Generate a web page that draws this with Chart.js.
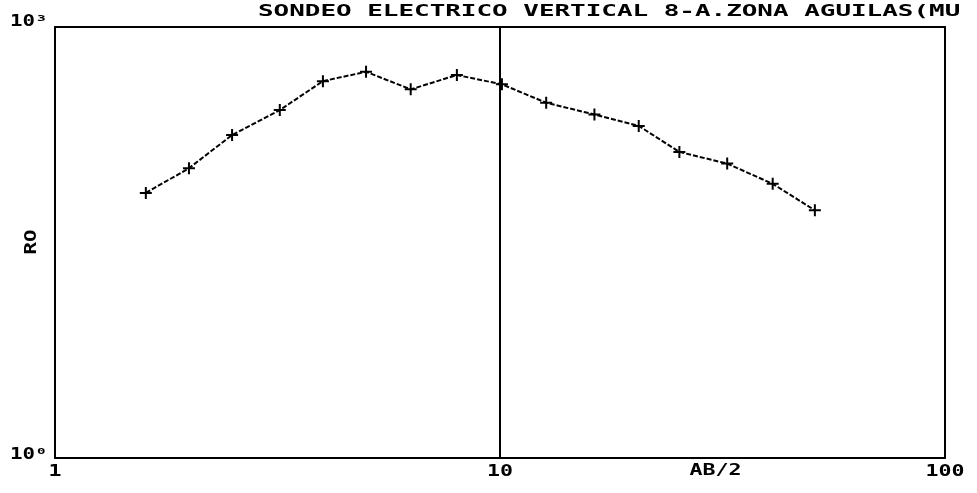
<!DOCTYPE html>
<html>
<head>
<meta charset="utf-8">
<script src="https://cdn.jsdelivr.net/npm/chart.js@4/dist/chart.umd.min.js"></script>
<style>
  html, body { margin: 0; padding: 0; background: #fff; }
  #wrap { width: 977px; height: 493px; }
</style>
</head>
<body>
<div id="wrap"><canvas id="myChart" width="977" height="493"></canvas></div>
<script>
// sondeo electrico vertical, AB/2 (m) frente a resistividad aparente RO
const abMitad = [1.6, 2, 2.5, 3.2, 4, 5, 6.3, 8, 10.1, 12.7, 16.3, 20.5, 25.3, 32.4, 41, 51];
const roAparente = [70, 104, 177, 264, 420, 488, 368, 463, 399, 297, 246, 205, 135, 112, 81, 53];

const xTickValues = [1, 10, 100];
const xTickLabels = ["1", "10", "100"];
const yTickValues = [1, 1000];
const yTickLabels = ["10\u2070", "10\u00B3"];

const titulo = "SONDEO ELECTRICO VERTICAL 8-A.ZONA AGUILAS(MU";
const tituloX = "AB/2";
const tituloY = "RO";

const FUENTE = "bold 16px 'DejaVu Sans Mono', monospace";

// texto estirado en horizontal, como el del plotter
function textoAncho(ctx, texto, x, y, sx, align) {
  ctx.save();
  ctx.font = FUENTE;
  ctx.fillStyle = "#000";
  ctx.textBaseline = "middle";
  ctx.textAlign = align;
  ctx.translate(x, y);
  ctx.scale(sx, 1);
  ctx.fillText(texto, 0, 0);
  ctx.restore();
}

const plotterPlugin = {
  id: "plotter",
  beforeDatasetsDraw(chart) {
    const { ctx, chartArea } = chart;
    ctx.save();
    ctx.strokeStyle = "#000";
    ctx.lineWidth = 2;
    ctx.strokeRect(chartArea.left, chartArea.top,
      chartArea.right - chartArea.left, chartArea.bottom - chartArea.top);
    ctx.restore();
  },
  afterDraw(chart) {
    const { ctx, scales } = chart;
    const x = scales.x;
    const y = scales.y;

    xTickValues.forEach((v, i) => {
      textoAncho(ctx, xTickLabels[i], x.getPixelForValue(v), 472, 1.35, "center");
    });
    yTickValues.forEach((v, i) => {
      const py = v === 1 ? y.getPixelForValue(v) - 3 : y.getPixelForValue(v) - 5;
      textoAncho(ctx, yTickLabels[i], 10, py, 1.3, "left");
    });

    textoAncho(ctx, tituloX, x.getPixelForValue(30.5), 471, 1.35, "center");
    textoAncho(ctx, titulo, 258, 12, 1.62, "left");

    ctx.save();
    ctx.font = FUENTE;
    ctx.fillStyle = "#000";
    ctx.textAlign = "center";
    ctx.textBaseline = "middle";
    ctx.translate(32, 242);
    ctx.rotate(-Math.PI / 2);
    ctx.scale(1.3, 1);
    ctx.fillText(tituloY, 0, 0);
    ctx.restore();
  }
};

document.addEventListener("DOMContentLoaded", () => {
  const ctx = document.getElementById("myChart");

  if (!ctx) {
    console.error("Canvas element 'myChart' not found");
    return;
  }

  const puntos = abMitad.map((ab, i) => ({ x: ab, y: roAparente[i] }));

  new Chart(ctx, {
    type: "line",
    data: {
      datasets: [{
        data: puntos,
        borderColor: "#000",
        borderWidth: 2,
        borderDash: [5, 2],
        pointStyle: "cross",
        pointRadius: 6,
        pointBorderWidth: 2,
        pointBorderColor: "#000",
        pointBackgroundColor: "#000",
        tension: 0,
        fill: false
      }]
    },
    options: {
      responsive: false,
      animation: false,
      devicePixelRatio: 1,
      layout: { padding: { top: 27, right: 32, left: 0, bottom: 0 } },
      plugins: {
        legend: { display: false },
        tooltip: { enabled: false },
        title: { display: false }
      },
      scales: {
        x: {
          type: "logarithmic",
          min: 1,
          max: 100,
          afterBuildTicks: scale => {
            scale.ticks = xTickValues.map(v => ({ value: v }));
          },
          afterFit: scale => { scale.height = 35; },
          ticks: { display: false },
          border: { display: false },
          grid: {
            drawTicks: false,
            lineWidth: 2,
            color: c => (c.tick && c.tick.value === 10 ? "#000" : "rgba(0,0,0,0)")
          }
        },
        y: {
          type: "logarithmic",
          min: 1,
          max: 1000,
          afterBuildTicks: scale => {
            scale.ticks = yTickValues.map(v => ({ value: v }));
          },
          afterFit: scale => { scale.width = 55; },
          ticks: { display: false },
          border: { display: false },
          grid: { display: false }
        }
      }
    },
    plugins: [plotterPlugin]
  });
});
</script>
</body>
</html>
